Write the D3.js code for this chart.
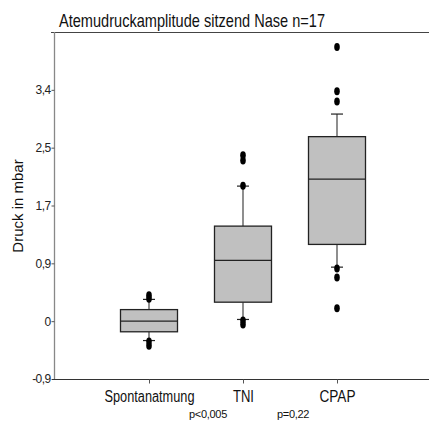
<!DOCTYPE html>
<html>
<head>
<meta charset="utf-8">
<script src="https://cdn.jsdelivr.net/npm/d3@7"></script>
<style>
html,body{margin:0;padding:0;background:#fff;}
svg{display:block;}
text{font-family:"Liberation Sans",Arial,sans-serif;}
</style>
</head>
<body>
<svg id="chart" width="429" height="421"></svg>
<script>
const title = "Atemudruckamplitude sitzend Nase n=17";
const yLabel = "Druck in mbar";
const categories = ["Spontanatmung", "TNI", "CPAP"];
const q1 = [-0.156, 0.279, 1.128];
const medians = [0.0, 0.893, 2.088];
const q3 = [0.17, 1.397, 2.712];
const whiskerLow = [-0.285, 0.025, 0.794];
const whiskerHigh = [0.32, 1.985, 3.044];
const outliers = [
  [0.38, 0.33, -0.30, -0.36],
  [2.44, 2.36, 1.99, 0.01, -0.05],
  [4.03, 3.38, 3.23, 0.775, 0.64, 0.19]
];
const tickValues = [-0.85, 0, 0.85, 1.7, 2.55, 3.4];
const tickLabels = ["-0,9", "0", "0,9", "1,7", "2,5", "3,4"];
const pLabels = ["p<0,005", "p=0,22"];

(function () {
const svg = d3.select("#chart");
const mLeft = 55, mRight = 429, mTop = 32, mBottom = 379;

const y = d3.scaleLinear().domain([-0.85, 4.25]).range([mBottom, mTop]);
const x = d3.scalePoint().domain(categories).range([mLeft, 431]).padding(1);
const boxW = 57, capW = 12;

// frame line at top
svg.append("line").attr("x1", 51).attr("x2", mRight).attr("y1", mTop + 0.5).attr("y2", mTop + 0.5)
  .attr("stroke", "#444").attr("stroke-width", 1.2);

// y axis
const yAxis = d3.axisLeft(y).tickValues(tickValues).tickSize(3).tickPadding(1)
  .tickFormat((d, i) => tickLabels[i]);
const gy = svg.append("g").attr("transform", `translate(${mLeft - 0.5},0)`).call(yAxis);
gy.select(".domain").attr("stroke", "#888").attr("stroke-width", 1.3).attr("d", `M0,${mTop}V${mBottom}`);
gy.selectAll(".tick line").attr("stroke", "#555");
gy.selectAll(".tick text").attr("font-size", 12).attr("fill", "#222").attr("letter-spacing", -0.6);

// x axis
const xAxis = d3.axisBottom(x).tickSize(4).tickPadding(7).tickSizeOuter(0);
const gx = svg.append("g").attr("transform", `translate(0,${mBottom + 0.5})`).call(xAxis);
gx.select(".domain").attr("stroke", "#333").attr("stroke-width", 1.2).attr("d", `M52,0H${mRight}`);
gx.selectAll(".tick line").attr("stroke", "#555");
const xTextLen = {"Spontanatmung": 90, "TNI": 21, "CPAP": 36};
gx.selectAll(".tick text").attr("font-size", 16).attr("fill", "#111")
  .attr("textLength", d => xTextLen[d]).attr("lengthAdjust", "spacingAndGlyphs");

// boxes
const g = svg.append("g");
categories.forEach((c, i) => {
  const cx = x(c);
  g.append("line").attr("x1", cx).attr("x2", cx).attr("y1", y(q3[i])).attr("y2", y(whiskerHigh[i]))
    .attr("stroke", "#444").attr("stroke-width", 1.2);
  g.append("line").attr("x1", cx).attr("x2", cx).attr("y1", y(q1[i])).attr("y2", y(whiskerLow[i]))
    .attr("stroke", "#444").attr("stroke-width", 1.2);
  g.append("line").attr("x1", cx - capW / 2).attr("x2", cx + capW / 2).attr("y1", y(whiskerHigh[i])).attr("y2", y(whiskerHigh[i]))
    .attr("stroke", "#222").attr("stroke-width", 1.2);
  g.append("line").attr("x1", cx - capW / 2).attr("x2", cx + capW / 2).attr("y1", y(whiskerLow[i])).attr("y2", y(whiskerLow[i]))
    .attr("stroke", "#222").attr("stroke-width", 1.2);
  g.append("rect").attr("x", cx - boxW / 2).attr("width", boxW)
    .attr("y", y(q3[i])).attr("height", y(q1[i]) - y(q3[i]))
    .attr("fill", "#c0c0c0").attr("stroke", "#222").attr("stroke-width", 1.3);
  g.append("line").attr("x1", cx - boxW / 2).attr("x2", cx + boxW / 2).attr("y1", y(medians[i])).attr("y2", y(medians[i]))
    .attr("stroke", "#222").attr("stroke-width", 1.3);
  g.selectAll(null).data(outliers[i]).enter().append("ellipse")
    .attr("cx", cx).attr("cy", d => y(d)).attr("rx", 2.8).attr("ry", 4)
    .attr("fill", "#000");
});

// title
svg.append("text").attr("x", 59).attr("y", 27).attr("font-size", 19).attr("fill", "#111")
  .attr("textLength", 266).attr("lengthAdjust", "spacingAndGlyphs").text(title);

// y label
svg.append("text").attr("transform", "translate(23,206) rotate(-90)").attr("text-anchor", "middle")
  .attr("font-size", 15).attr("fill", "#111").text(yLabel);

// p-values
svg.append("text").attr("x", 189).attr("y", 417.5).attr("font-size", 11).attr("fill", "#111")
  .attr("letter-spacing", -0.3).text(pLabels[0]);
svg.append("text").attr("x", 277).attr("y", 417.5).attr("font-size", 11).attr("fill", "#111")
  .attr("letter-spacing", -0.3).text(pLabels[1]);
})();
</script>
</body>
</html>
